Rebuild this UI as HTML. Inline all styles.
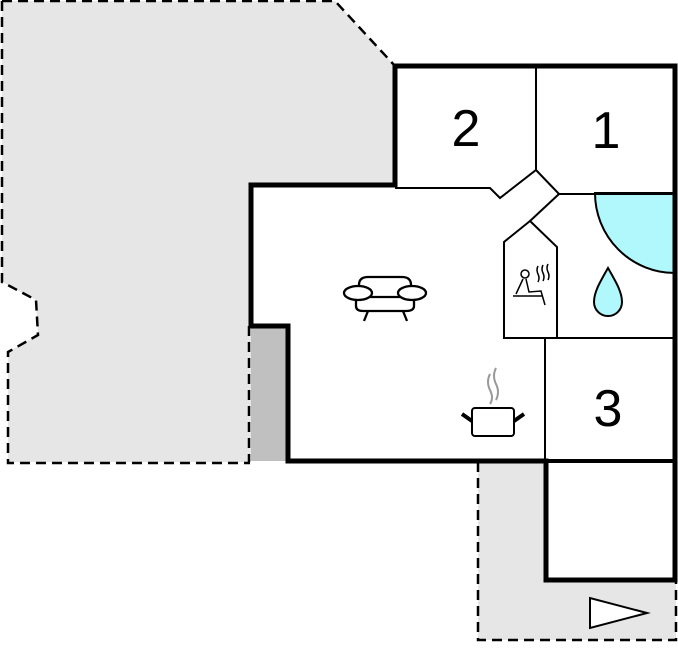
<!DOCTYPE html>
<html><head><style>html,body{margin:0;padding:0;background:#fff;}svg{display:block}</style></head>
<body>
<svg width="678" height="652" viewBox="0 0 678 652" xmlns="http://www.w3.org/2000/svg">
<polygon points="2,1 335,1 395,66 395,185 251,185 251,462 8,462 8,352 38,335 36,300 2,282" fill="#e6e6e6"/>
<polyline points="2,1 335,1 395,66" fill="none" stroke="#000" stroke-width="2.5" stroke-dasharray="10,6"/>
<polyline points="2,1 2,282 36,300 38,335 8,352 8,463 250,463" fill="none" stroke="#000" stroke-width="2.5" stroke-dasharray="10,6"/>
<rect x="478" y="462" width="198" height="178" fill="#e6e6e6"/>
<polyline points="478,462 478,640 676,640 676,582" fill="none" stroke="#000" stroke-width="2.5" stroke-dasharray="10,6"/>
<polygon points="590,598 590,628 647,613" fill="#fff" stroke="#000" stroke-width="2"/>
<rect x="251" y="326" width="37" height="135" fill="#c0c0c0"/>
<line x1="249" y1="326" x2="249" y2="462" stroke="#000" stroke-width="2.5" stroke-dasharray="10,6"/>
<polygon points="395,66 675,66 675,580 546,580 546,461 288,461 288,326 251,326 251,185 395,185" fill="#fff"/>
<path d="M675,193 L595,193 A80,80 0 0 0 675,273 Z" fill="#b0f8fc" stroke="#000" stroke-width="2"/>
<g fill="none" stroke="#000" stroke-width="2">
<line x1="536" y1="66" x2="536" y2="170"/>
<polyline points="395,188 490,188 500,198 536,170 559,194 675,194"/>
<polyline points="559,194 530,221"/>
<polygon points="530,221 504,242 504,338 557,338 557,247"/>
<line x1="545" y1="338" x2="675" y2="338"/>
<line x1="545" y1="338" x2="545" y2="461"/>
</g>
<polygon points="395,66 675,66 675,580 546,580 546,461 288,461 288,326 251,326 251,185 395,185" fill="none" stroke="#000" stroke-width="5" stroke-linejoin="miter"/>
<line x1="546" y1="461" x2="675" y2="461" stroke="#000" stroke-width="4"/>
<g font-family="Liberation Sans, sans-serif" font-size="52" text-anchor="middle" fill="#000">
<text x="466" y="146">2</text>
<text x="606" y="148">1</text>
<text x="608" y="426">3</text>
</g>
<path d="M608,268 C600,282 594,292 594,302 A14,14 0 0 0 622,302 C622,292 616,282 608,268 Z" fill="#b0f8fc" stroke="#000" stroke-width="2"/>
<g fill="#fff" stroke="#000" stroke-width="2.3">
<path d="M359,294 L359,285 Q359,277 368,277 L402,277 Q411,277 411,285 L411,294"/>
<path d="M356,298 L356,306 Q356,311 363,311 L406,311 Q414,311 414,306 L414,298"/>
<line x1="368" y1="311" x2="364" y2="321"/>
<line x1="403" y1="311" x2="407" y2="321"/>
<line x1="364" y1="297" x2="406" y2="297"/>
<ellipse cx="358" cy="293" rx="14" ry="7"/>
<ellipse cx="412" cy="293" rx="14" ry="7"/>
</g>
<g stroke="#000" fill="#fff">
<rect x="472" y="408" width="42" height="28" rx="3" stroke-width="2"/>
<line x1="462" y1="414" x2="472" y2="421" stroke-width="4"/>
<line x1="524" y1="414" x2="514" y2="421" stroke-width="4"/>
<path d="M490,374 Q486,382 490,390 Q494,398 490,404" fill="none" stroke="#999" stroke-width="2"/>
<path d="M496,368 Q492,376 496,384 Q500,392 496,400" fill="none" stroke="#999" stroke-width="2"/>
</g>
<g fill="none" stroke="#000" stroke-width="1.5">
<circle cx="525" cy="274" r="4"/>
<path d="M523,279 L516,294 M526,279 L529,292 L541,291 L545,305"/>
<line x1="513" y1="296" x2="543" y2="296"/>
<path d="M538,266 q-2,4 0,8 q2,4 0,8 M543,265 q-2,4 0,8 q2,4 0,8 M548,264 q-2,4 0,8 q2,4 0,8"/>
</g>
</svg>
</body></html>
